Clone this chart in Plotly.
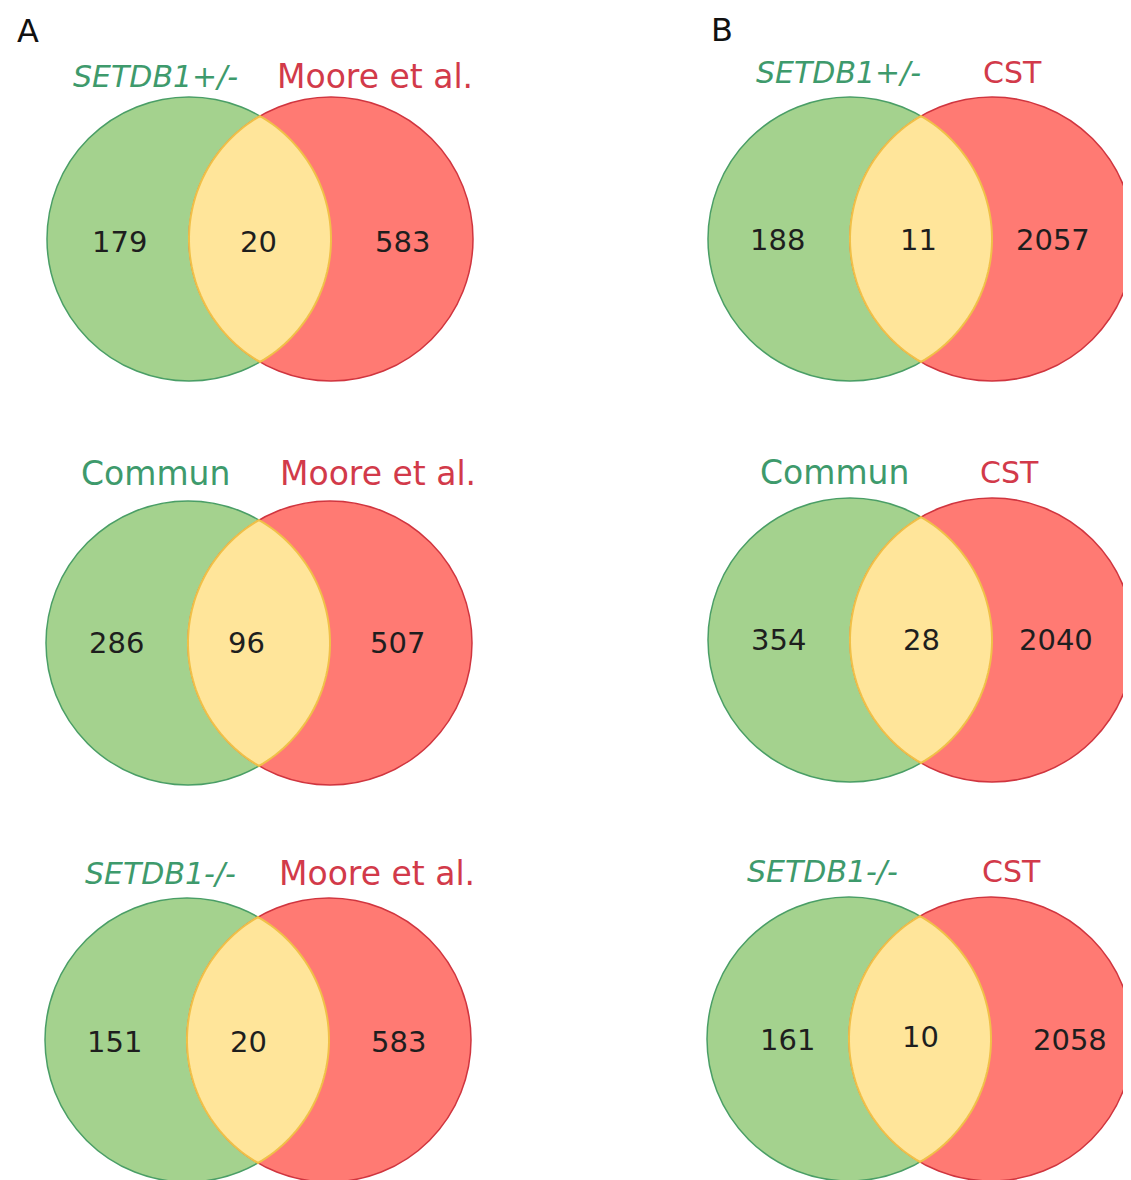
import numpy as np
import plotly.graph_objects as go

# ---------------- data ----------------
panel_letters = ["A", "B"]
left_labels = [["SETDB1+/-", "Commun", "SETDB1-/-"],
               ["SETDB1+/-", "Commun", "SETDB1-/-"]]
left_italic = [True, False, True]
right_labels = [["Moore et al.", "Moore et al.", "Moore et al."],
                ["CST", "CST", "CST"]]
left_only = [[179, 286, 151], [188, 354, 161]]
shared = [[20, 96, 20], [11, 28, 10]]
right_only = [[583, 507, 583], [2057, 2040, 2058]]

# ---------------- layout (pixel-like coordinates) ----------------
W, H = 1131, 1180
BODY = 8  # default page margin of the html body
R = 142
DIST = 142
panel_cx = [[189, 188, 187], [850, 850, 849]]          # left circle centre x
row_cy = [[239, 643, 1040], [239, 640, 1039]]           # circle centre y
label_pos = {
    "left": [[(155, 76), (155, 473), (160, 873)], [(838, 72), (834, 472), (822, 871)]],
    "right": [[(375, 76), (378, 473), (377, 873)], [(1012, 72), (1009, 472), (1011, 871)]],
}
label_size = {"SETDB1+/-": 30, "SETDB1-/-": 30, "Commun": 33,
              "Moore et al.": 33, "CST": 30}
num_pos = {
    "left": [[(119, 242), (116, 643), (114, 1042)], [(777, 240), (778, 640), (787, 1040)]],
    "mid": [[(258, 242), (246, 643), (248, 1042)], [(918, 240), (921, 640), (920, 1037)]],
    "right": [[(402, 242), (397, 643), (398, 1042)], [(1053, 240), (1056, 640), (1070, 1040)]],
}
letter_pos = [(28, 31), (722, 30)]

GREEN_FILL = "#A4D28E"
RED_FILL = "#FF7A73"
LENS_FILL = "#FFE59A"
GREEN_LINE = "#4A9E66"
RED_LINE = "#D0353F"
LENS_LINE = "#F0C048"
GREEN_TEXT = "#3E9A6C"
RED_TEXT = "#D23A4A"
NUM_TEXT = "#1E1E1E"
FONT = "DejaVu Sans"

fig = go.Figure()
# invisible trace to anchor axes
fig.add_trace(go.Scatter(x=[BODY, W], y=[BODY, H], mode="markers",
                         marker=dict(opacity=0), hoverinfo="skip", showlegend=False))

shapes = []
annotations = []


def lens_path(c1, c2, cy, r):
    half = (c2 - c1) / 2.0
    th = np.arccos(half / r)
    pts = []
    for a in np.linspace(-th, th, 60):
        pts.append((c1 + r * np.cos(a), cy + r * np.sin(a)))
    for a in np.linspace(np.pi - th, np.pi + th, 60):
        pts.append((c2 + r * np.cos(a), cy + r * np.sin(a)))
    s = "M {:.2f},{:.2f} ".format(*pts[0])
    s += " ".join("L {:.2f},{:.2f}".format(x, y) for x, y in pts[1:])
    return s + " Z"


for p in range(2):
    for row in range(3):
        c1 = panel_cx[p][row]
        c2 = c1 + DIST
        cy = row_cy[p][row]
        shapes.append(dict(type="circle", xref="x", yref="y",
                           x0=c1 - R, x1=c1 + R, y0=cy - R, y1=cy + R,
                           fillcolor=GREEN_FILL, line=dict(color=GREEN_LINE, width=1.5)))
        shapes.append(dict(type="circle", xref="x", yref="y",
                           x0=c2 - R, x1=c2 + R, y0=cy - R, y1=cy + R,
                           fillcolor=RED_FILL, line=dict(color=RED_LINE, width=1.5)))
        shapes.append(dict(type="path", xref="x", yref="y",
                           path=lens_path(c1, c2, cy, R),
                           fillcolor=LENS_FILL, line=dict(color=LENS_LINE, width=2)))

        lab = left_labels[p][row]
        lt = "<i>" + lab + "</i>" if left_italic[row] else lab
        lx, ly = label_pos["left"][p][row]
        annotations.append(dict(x=lx, y=ly, text=lt, showarrow=False,
                                xanchor="center", yanchor="middle",
                                font=dict(family=FONT, size=label_size[lab], color=GREEN_TEXT)))
        rlab = right_labels[p][row]
        rx, ry = label_pos["right"][p][row]
        annotations.append(dict(x=rx, y=ry, text=rlab, showarrow=False,
                                xanchor="center", yanchor="middle",
                                font=dict(family=FONT, size=label_size[rlab], color=RED_TEXT)))
        for key, vals in (("left", left_only), ("mid", shared), ("right", right_only)):
            nx, ny = num_pos[key][p][row]
            annotations.append(dict(x=nx, y=ny, text=str(vals[p][row]), showarrow=False,
                                    xanchor="center", yanchor="middle",
                                    font=dict(family=FONT, size=29, color=NUM_TEXT)))

for i, letter in enumerate(panel_letters):
    x, y = letter_pos[i]
    annotations.append(dict(x=x, y=y, text=letter, showarrow=False,
                            xanchor="center", yanchor="middle",
                            font=dict(family=FONT, size=32, color="#111111")))

fig.update_layout(
    width=W, height=H - BODY,
    margin=dict(l=0, r=0, t=0, b=0),
    paper_bgcolor="white", plot_bgcolor="white",
    xaxis=dict(range=[BODY, W + BODY], visible=False, fixedrange=True),
    yaxis=dict(range=[H, BODY], visible=False, fixedrange=True),
    shapes=shapes,
    annotations=annotations,
    showlegend=False,
)

fig.write_html("out.html")
